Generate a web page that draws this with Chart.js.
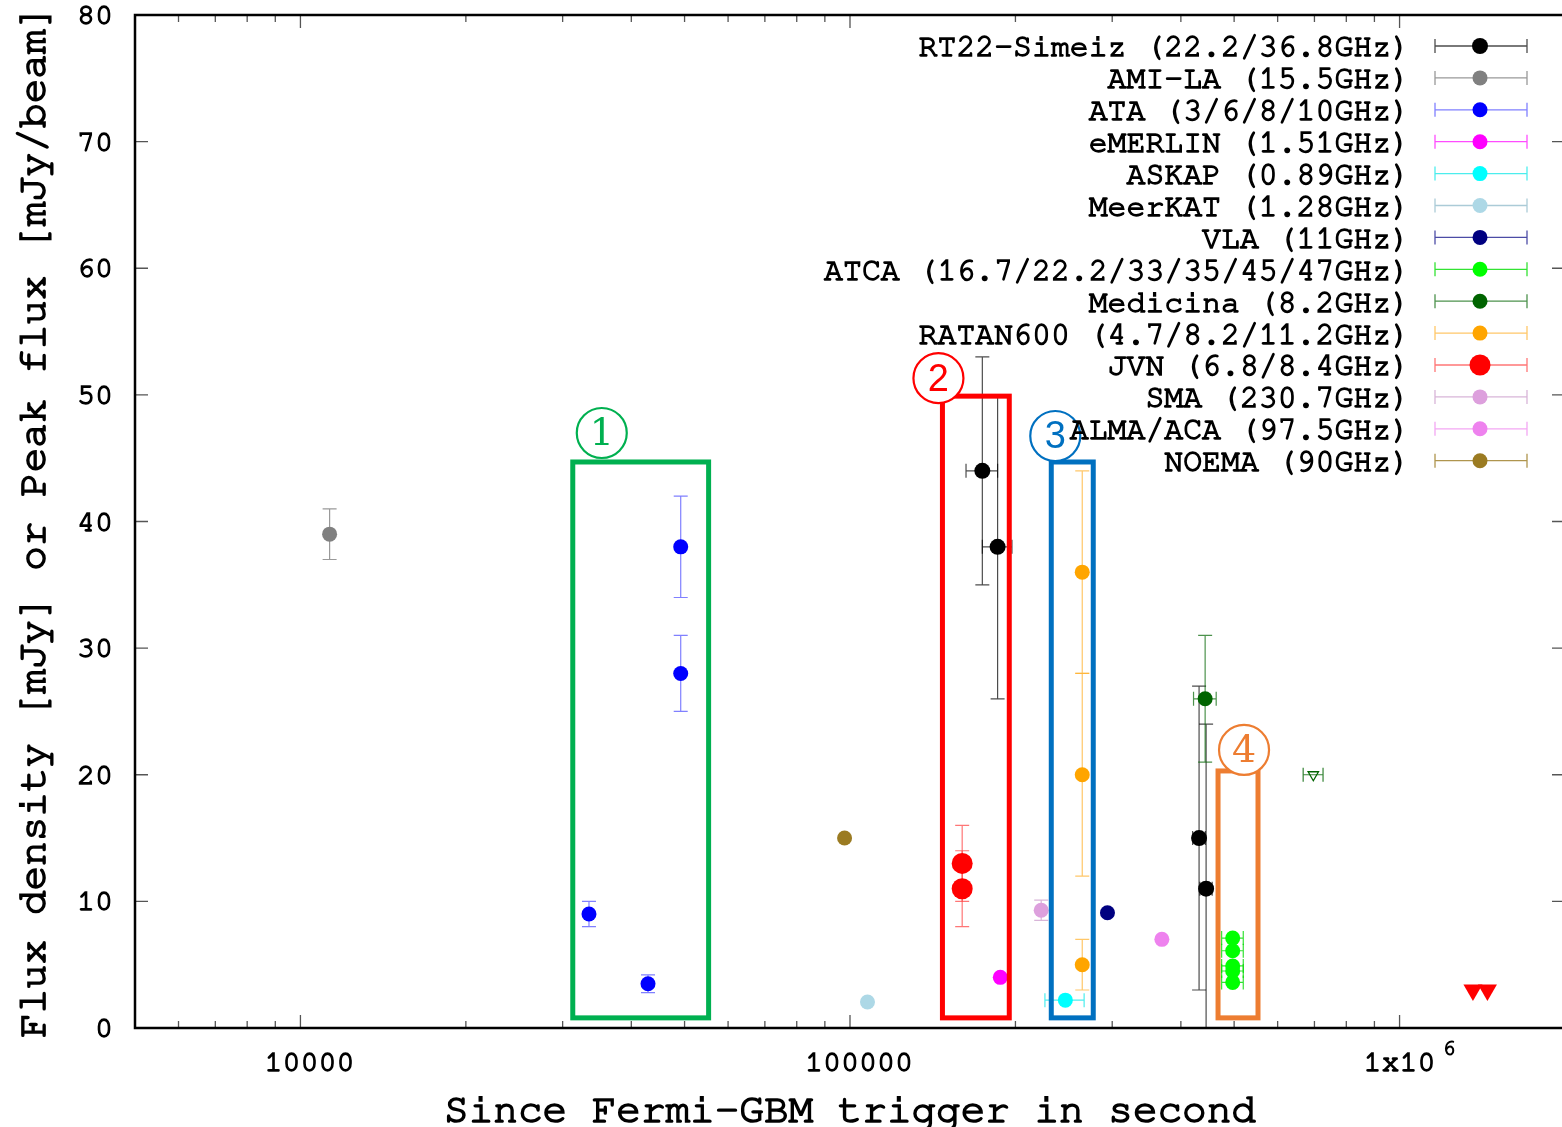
<!DOCTYPE html>
<html>
<head>
<meta charset="utf-8">
<title>Radio light curve</title>
<script src="https://cdn.jsdelivr.net/npm/chart.js@4.4.1/dist/chart.umd.min.js"></script>
<style>
  html,body{margin:0;padding:0;background:#fff;overflow:hidden;}
  #wrap{width:1570px;height:1127px;}
</style>
</head>
<body>
<div id="wrap"><canvas id="lc" width="1570" height="1127"></canvas></div>
<script>
const MONO = '"Nimbus Mono PS", "FreeMono", "Courier New", Courier, "Liberation Mono", monospace';

// time since trigger [s], flux [mJy], 1-sigma errors
const rt22Time = [174100, 185600, 431700, 444600];
const rt22Flux = [44, 38, 15, 11];
const rt22FluxErr = [9, 12, 12, 13];
const rt22TimeErr = [11500, 11500, 11500, 11500];

const amiTime = [11300];
const amiFlux = [39];
const amiFluxErr = [2];

const ataTime = [33500, 42900, 49200, 49200];
const ataFlux = [9, 3.5, 38, 28];
const ataFluxErr = [1, 0.7, 4, 3];

const emerlinTime = [187700];
const emerlinFlux = [4];

const askapTime = [246500];
const askapFlux = [2.2];
const askapTimeErr = [20200];

const meerkatTime = [107600];
const meerkatFlux = [2.05];

const vlaTime = [294100];
const vlaFlux = [9.1];

const atcaTime = [497000, 497000, 497000, 497000, 497000];
const atcaFlux = [7.1, 6.1, 4.9, 4.5, 3.6];
const atcaTimeErr = [22500, 22500, 22500, 22500, 22500];

const medicinaTime = [442800];
const medicinaFlux = [26];
const medicinaFluxErr = [5];
const medicinaTimeErr = [21000];

const ratanTime = [264600, 264600, 264600];
const ratanFlux = [36, 20, 5];
const ratanFluxErr = [8, 8, 2];

const jvnTime = [160000, 160000];
const jvnFlux = [13, 11];
const jvnFluxErr = [3, 3];

const smaTime = [222800];
const smaFlux = [9.3];
const smaFluxErr = [0.8];

const almaTime = [369400];
const almaFlux = [7];

const noemaTime = [97750];
const noemaFlux = [15];

// upper limits
const jvnLimTime = [1360000, 1445000];
const jvnLimFlux = [3, 3];
const medicinaLimTime = [696700];
const medicinaLimFlux = [20];
const medicinaLimTimeErr = [29000];

const xTicks = [1e4, 1e5, 1e6];
const xTickLabels = ['10000', '100000', '1x10 '];
const xTickExponents = ['', '', '6'];

const xTitle = 'Since Fermi-GBM trigger in second';
const yTitle = 'Flux density [mJy] or Peak flux [mJy/beam]';

// observing epochs marked on the plot: time range, flux range
const epochNames = ['1', '2', '3', '4'];
const epochTime = [[31300, 55300], [147300, 194900], [232400, 277100], [467400, 552600]];
const epochFlux = [[0.8, 44.7], [0.8, 49.9], [0.8, 44.7], [0.8, 20.3]];

const epochStyle = [
  {color: '#00b050', dx: 29, dy: -29, font: '38px "DejaVu Serif", serif'},
  {color: '#ff0000', dx: -4, dy: -18, font: '38px "Liberation Sans", sans-serif'},
  {color: '#0070c0', dx: 4, dy: -26, font: '38px "Liberation Sans", sans-serif'},
  {color: '#ed7d31', dx: 26, dy: -21, font: '38px "DejaVu Serif", serif'}
];

function pts(t, f, ef, et) {
  return t.map((v, i) => ({x: v, y: f[i], dy: ef ? ef[i] : 0, dx: et ? et[i] : 0}));
}

function series(label, color, bar, data, r) {
  return {
    label, data,
    backgroundColor: color, borderColor: color, barColor: bar,
    pointRadius: r || 7.5, pointHoverRadius: r || 7.5, pointBorderWidth: 0,
    showLine: false
  };
}

const datasets = [
  series('RT22-Simeiz (22.2/36.8GHz)', '#000000', 'rgba(0,0,0,0.7)', pts(rt22Time, rt22Flux, rt22FluxErr, rt22TimeErr), 8),
  series('AMI-LA (15.5GHz)', '#808080', 'rgba(128,128,128,0.8)', pts(amiTime, amiFlux, amiFluxErr)),
  series('ATA (3/6/8/10GHz)', '#0000ff', 'rgba(60,60,255,0.65)', pts(ataTime, ataFlux, ataFluxErr)),
  series('eMERLIN (1.51GHz)', '#ff00ff', 'rgba(255,0,255,0.7)', pts(emerlinTime, emerlinFlux)),
  series('ASKAP (0.89GHz)', '#00ffff', 'rgba(0,230,230,0.7)', pts(askapTime, askapFlux, null, askapTimeErr)),
  series('MeerKAT (1.28GHz)', '#add8e6', 'rgba(150,190,205,0.8)', pts(meerkatTime, meerkatFlux)),
  series('VLA (11GHz)', '#000080', 'rgba(0,0,128,0.7)', pts(vlaTime, vlaFlux)),
  series('ATCA (16.7/22.2/33/35/45/47GHz)', '#00ff00', 'rgba(0,220,0,0.8)', pts(atcaTime, atcaFlux, null, atcaTimeErr)),
  series('Medicina (8.2GHz)', '#006400', 'rgba(0,100,0,0.7)', pts(medicinaTime, medicinaFlux, medicinaFluxErr, medicinaTimeErr)),
  series('RATAN600 (4.7/8.2/11.2GHz)', '#ffa500', 'rgba(255,175,40,0.7)', pts(ratanTime, ratanFlux, ratanFluxErr)),
  series('JVN (6.8/8.4GHz)', '#ff0000', 'rgba(255,60,60,0.7)', pts(jvnTime, jvnFlux, jvnFluxErr), 10.5),
  series('SMA (230.7GHz)', '#dda0dd', 'rgba(200,150,200,0.7)', pts(smaTime, smaFlux, smaFluxErr)),
  series('ALMA/ACA (97.5GHz)', '#ee82ee', 'rgba(238,130,238,0.7)', pts(almaTime, almaFlux)),
  series('NOEMA (90GHz)', '#9b7b22', 'rgba(155,123,34,0.8)', pts(noemaTime, noemaFlux)),
  Object.assign(series('JVN upper limit', '#ff0000', 'rgba(255,0,0,0.7)', pts(jvnLimTime, jvnLimFlux), 11),
    {pointStyle: 'triangle', rotation: 180, noKey: true}),
  Object.assign(series('Medicina upper limit', 'rgba(0,0,0,0)', 'rgba(0,100,0,0.8)',
    pts(medicinaLimTime, medicinaLimFlux, null, medicinaLimTimeErr), 6),
    {pointStyle: 'triangle', rotation: 180, borderColor: '#006400', pointBorderWidth: 1.3, noKey: true})
];

const CAP = 7;
const TEXT_STROKE = 1.4;

// error bars under the points
const errorBars = {
  id: 'errorBars',
  beforeDatasetsDraw(chart) {
    const {ctx, chartArea: a, scales: {x, y}} = chart;
    ctx.save();
    ctx.beginPath(); ctx.rect(a.left, a.top, a.width, a.height); ctx.clip();
    ctx.lineWidth = 1.2;
    chart.data.datasets.forEach(ds => {
      ctx.strokeStyle = ds.barColor;
      ds.data.forEach(p => {
        const px = x.getPixelForValue(p.x), py = y.getPixelForValue(p.y);
        ctx.beginPath();
        if (p.dy) {
          const y1 = y.getPixelForValue(p.y - p.dy), y2 = y.getPixelForValue(p.y + p.dy);
          ctx.moveTo(px, y1); ctx.lineTo(px, y2);
          ctx.moveTo(px - CAP, y1); ctx.lineTo(px + CAP, y1);
          ctx.moveTo(px - CAP, y2); ctx.lineTo(px + CAP, y2);
        }
        if (p.dx) {
          const x1 = x.getPixelForValue(p.x - p.dx), x2 = x.getPixelForValue(p.x + p.dx);
          ctx.moveTo(x1, py); ctx.lineTo(x2, py);
          ctx.moveTo(x1, py - CAP); ctx.lineTo(x1, py + CAP);
          ctx.moveTo(x2, py - CAP); ctx.lineTo(x2, py + CAP);
        }
        ctx.stroke();
      });
    });
    ctx.restore();
  }
};

// numbered epoch boxes
const epochs = {
  id: 'epochs',
  afterDatasetsDraw(chart) {
    const {ctx, scales: {x, y}} = chart;
    ctx.save();
    epochNames.forEach((name, i) => {
      const st = epochStyle[i];
      const l = x.getPixelForValue(epochTime[i][0]), r = x.getPixelForValue(epochTime[i][1]);
      const t = y.getPixelForValue(epochFlux[i][1]), b = y.getPixelForValue(epochFlux[i][0]);
      ctx.strokeStyle = st.color;
      ctx.lineWidth = 5;
      ctx.strokeRect(l, t, r - l, b - t);
      const cx = l + st.dx, cy = t + st.dy;
      ctx.fillStyle = '#fff';
      ctx.lineWidth = 2.2;
      ctx.beginPath(); ctx.arc(cx, cy, 25, 0, Math.PI * 2); ctx.fill(); ctx.stroke();
      ctx.fillStyle = st.color;
      ctx.font = st.font;
      ctx.textAlign = 'center'; ctx.textBaseline = 'middle';
      ctx.fillText(name, cx, cy + 2);
    });
    ctx.restore();
  }
};

function heavyText(ctx, s, x, y) {
  ctx.fillText(s, x, y);
  ctx.strokeText(s, x, y);
}

// border, inward ticks, exponent of the 1e6 label, heavier axis titles and key
const frame = {
  id: 'frame',
  afterDraw(chart) {
    const {ctx, chartArea: a, scales: {x, y}} = chart;
    ctx.save();
    ctx.strokeStyle = '#555';
    ctx.lineWidth = 1.3;
    ctx.beginPath();
    for (let d = 1e3; d <= 1e6; d *= 10) {
      for (let m = 1; m <= 9; m++) {
        const v = m * d;
        if (v <= x.min || v >= x.max) continue;
        const px = x.getPixelForValue(v), len = m === 1 ? 13 : 7;
        ctx.moveTo(px, a.bottom); ctx.lineTo(px, a.bottom - len);
        ctx.moveTo(px, a.top); ctx.lineTo(px, a.top + len);
      }
    }
    for (let v = 10; v < 80; v += 10) {
      const py = y.getPixelForValue(v);
      ctx.moveTo(a.left, py); ctx.lineTo(a.left + 13, py);
      ctx.moveTo(a.right, py); ctx.lineTo(a.right - 13, py);
    }
    ctx.stroke();
    ctx.strokeStyle = '#000';
    ctx.lineWidth = 2.5;
    ctx.beginPath();
    ctx.moveTo(a.right + 2, a.top); ctx.lineTo(a.left, a.top);
    ctx.lineTo(a.left, a.bottom); ctx.lineTo(a.right + 2, a.bottom);
    ctx.stroke();

    ctx.fillStyle = '#000';
    ctx.strokeStyle = '#000';
    ctx.lineWidth = 1.1;
    ctx.font = '22px ' + MONO;
    ctx.textAlign = 'left'; ctx.textBaseline = 'middle';
    xTicks.forEach((v, i) => {
      if (!xTickExponents[i]) return;
      heavyText(ctx, xTickExponents[i], x.getPixelForValue(v) + 43, a.bottom + 20);
    });

    // overstroke the axis titles so they carry the same weight as the labels
    ctx.font = '41px ' + MONO;
    ctx.textAlign = 'center';
    ctx.lineWidth = 1.7;
    ctx.strokeText(xTitle, (x.left + x.right) / 2, x.bottom - 20.5 + 3);
    ctx.save();
    ctx.translate(y.left + 20.5 + 12, (y.top + y.bottom) / 2);
    ctx.rotate(-Math.PI / 2);
    ctx.strokeText(yTitle, 0, 0);
    ctx.restore();

    // key
    const textX = a.right - 155, x0 = a.right - 130, x1 = a.right - 38, xm = a.right - 85;
    ctx.font = '31.5px ' + MONO;
    ctx.textAlign = 'right';
    let row = 0;
    chart.data.datasets.forEach(ds => {
      if (ds.noKey) return;
      const cy = a.top + 31 + row * 31.9;
      ctx.fillStyle = '#000';
      ctx.strokeStyle = '#000';
      ctx.lineWidth = TEXT_STROKE;
      heavyText(ctx, ds.label, textX, cy + 1);
      ctx.strokeStyle = ds.barColor;
      ctx.lineWidth = 1.3;
      ctx.beginPath();
      ctx.moveTo(x0, cy); ctx.lineTo(x1, cy);
      ctx.moveTo(x0, cy - CAP); ctx.lineTo(x0, cy + CAP);
      ctx.moveTo(x1, cy - CAP); ctx.lineTo(x1, cy + CAP);
      ctx.stroke();
      ctx.fillStyle = ds.backgroundColor;
      ctx.beginPath(); ctx.arc(xm, cy, ds.pointRadius, 0, Math.PI * 2); ctx.fill();
      row++;
    });
    ctx.restore();
  }
};

function noPad(s) {
  s.paddingTop = 0; s.paddingBottom = 0; s.paddingLeft = 0; s.paddingRight = 0;
}

const tickFont = {family: MONO, size: 30};

new Chart(document.getElementById('lc'), {
  type: 'scatter',
  data: {datasets},
  options: {
    responsive: false,
    animation: false,
    events: [],
    layout: {autoPadding: false, padding: {top: 15, right: 5, left: 0, bottom: 0}},
    plugins: {legend: {display: false}, tooltip: {enabled: false}},
    scales: {
      x: {
        type: 'logarithmic', min: 5000, max: 2000000,
        grid: {display: false, drawTicks: false}, border: {display: false},
        afterBuildTicks: s => { s.ticks = xTicks.map(v => ({value: v})); },
        afterFit: s => { s.height = 99; noPad(s); },
        ticks: {
          autoSkip: false, maxRotation: 0, padding: 16, labelOffset: 9,
          color: '#000', font: tickFont, textStrokeColor: '#000', textStrokeWidth: TEXT_STROKE,
          callback: v => xTickLabels[xTicks.indexOf(v)]
        },
        title: {
          display: true, text: xTitle, color: '#000',
          font: {family: MONO, size: 41, lineHeight: 1}, padding: {top: 0, bottom: -3}
        }
      },
      y: {
        min: 0, max: 80,
        grid: {display: false, drawTicks: false}, border: {display: false},
        afterFit: s => { s.width = 135; noPad(s); },
        ticks: {
          stepSize: 10, padding: 22, color: '#000', font: tickFont,
          textStrokeColor: '#000', textStrokeWidth: TEXT_STROKE
        },
        title: {
          display: true, text: yTitle, color: '#000',
          font: {family: MONO, size: 41, lineHeight: 1}, padding: {top: 12, bottom: 0}
        }
      }
    }
  },
  plugins: [errorBars, epochs, frame]
});
</script>
</body>
</html>
